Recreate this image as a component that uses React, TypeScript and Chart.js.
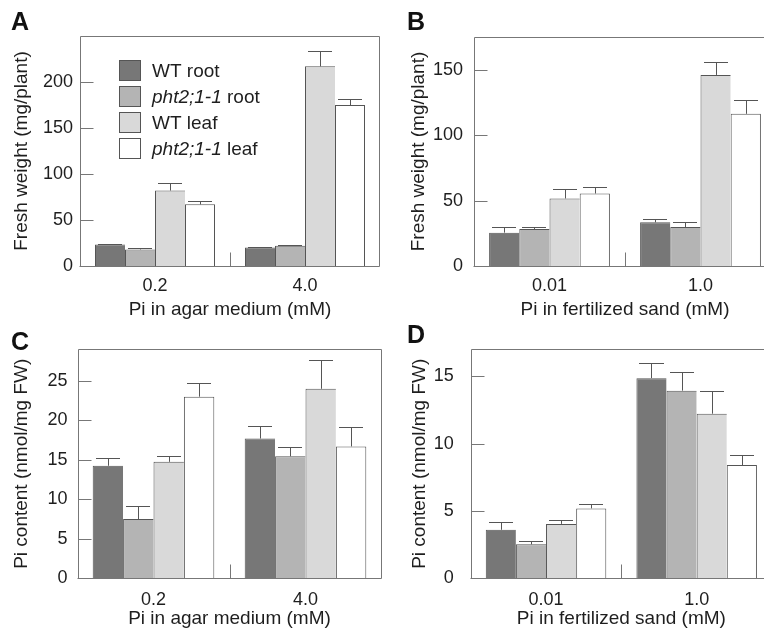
import React, { useEffect, useRef } from 'react';
import { Chart, registerables } from 'chart.js';
Chart.register(...registerables);

// ---------- data ----------
const seriesNames = ['WT root', 'pht2;1-1 root', 'WT leaf', 'pht2;1-1 leaf'];
const seriesColors = ['#777777', '#b4b4b4', '#d9d9d9', '#ffffff'];

// Panel A: fresh weight, agar medium
const catsA = ['0.2', '4.0'];
const aWtRoot = [23.5, 20];
const aPhtRoot = [18, 22];
const aWtLeaf = [82, 217];
const aPhtLeaf = [67, 175];
const aWtRootErr = [0.5, 1];
const aPhtRootErr = [2, 1];
const aWtLeafErr = [8, 17];
const aPhtLeafErr = [4, 7];

// Panel B: fresh weight, fertilized sand
const catsB = ['0.01', '1.0'];
const bWtRoot = [25.5, 33.4];
const bPhtRoot = [28.3, 29.8];
const bWtLeaf = [51.6, 146];
const bPhtLeaf = [55.4, 116.3];
const bWtRootErr = [4.3, 2.3];
const bPhtRootErr = [1.5, 4.2];
const bWtLeafErr = [7, 9.7];
const bPhtLeafErr = [5, 10.7];

// Panel C: Pi content, agar medium
const catsC = ['0.2', '4.0'];
const cWtRoot = [14.25, 17.7];
const cPhtRoot = [7.5, 15.45];
const cWtLeaf = [14.75, 24.0];
const cPhtLeaf = [23.0, 16.7];
const cWtRootErr = [0.95, 1.6];
const cPhtRootErr = [1.65, 1.15];
const cWtLeafErr = [0.7, 3.7];
const cPhtLeafErr = [1.67, 2.5];

// Panel D: Pi content, fertilized sand
const catsD = ['0.01', '1.0'];
const dWtRoot = [3.6, 14.86];
const dPhtRoot = [2.52, 13.93];
const dWtLeaf = [4.04, 12.22];
const dPhtLeaf = [5.19, 8.41];
const dWtRootErr = [0.55, 1.14];
const dPhtRootErr = [0.24, 1.4];
const dWtLeafErr = [0.3, 1.65];
const dPhtLeafErr = [0.29, 0.75];

// axis ranges / tick labels
const yMaxA = 250, yStepA = 50, yLabelMaxA = 200;
const yMaxB = 175, yStepB = 50, yLabelMaxB = 150;
const yMaxC = 29, yStepC = 5, yLabelMaxC = 25;
const yMaxD = 17, yStepD = 5, yLabelMaxD = 15;

const yTitleWeight = 'Fresh weight (mg/plant)';
const yTitlePi = 'Pi content (nmol/mg FW)';
const xTitleAgar = 'Pi in agar medium (mM)';
const xTitleSand = 'Pi in fertilized sand (mM)';

// ---------- styling ----------
const FONT = '"Liberation Sans", Arial, Helvetica, sans-serif';
const TEXT = '#1e1e1e';
const LINE = '#777777';
const BAR_EDGE = '#555555';
const TICK_SIZE = 18;
const TITLE_SIZE = 19;

type Area = { left: number; top: number; right: number; bottom: number };
type Panel = {
  letter: string;
  letterPos: { left: number; top: number };
  labels: string[];
  series: number[][];
  errors: number[][];
  yMax: number;
  yStep: number;
  yLabelMax: number;
  yTitle: string;
  xTitle: string;
  box: { left: number; top: number; width: number; height: number };
  area: Area;
  yTitlePad: number;
  yTickPad: number;
  xTickPad: number;
  xTitlePad: number;
  legend: boolean;
};

const panels: Panel[] = [
  {
    letter: 'A', letterPos: { left: 11, top: 9 },
    labels: catsA,
    series: [aWtRoot, aPhtRoot, aWtLeaf, aPhtLeaf],
    errors: [aWtRootErr, aPhtRootErr, aWtLeafErr, aPhtLeafErr],
    yMax: yMaxA, yStep: yStepA, yLabelMax: yLabelMaxA,
    yTitle: yTitleWeight, xTitle: xTitleAgar,
    box: { left: 0, top: 0, width: 382, height: 323 },
    area: { left: 80, top: 36, right: 380, bottom: 266 },
    yTitlePad: 10.6, yTickPad: 7, xTickPad: 9.5, xTitlePad: 1.6, legend: true,
  },
  {
    letter: 'B', letterPos: { left: 407, top: 9 },
    labels: catsB,
    series: [bWtRoot, bPhtRoot, bWtLeaf, bPhtLeaf],
    errors: [bWtRootErr, bPhtRootErr, bWtLeafErr, bPhtLeafErr],
    yMax: yMaxB, yStep: yStepB, yLabelMax: yLabelMaxB,
    yTitle: yTitleWeight, xTitle: xTitleSand,
    box: { left: 382, top: 0, width: 400, height: 323 },
    area: { left: 92, top: 37, right: 394, bottom: 266 },
    yTitlePad: 25.6, yTickPad: 11, xTickPad: 9, xTitlePad: 1.6, legend: false,
  },
  {
    letter: 'C', letterPos: { left: 11, top: 329 },
    labels: catsC,
    series: [cWtRoot, cPhtRoot, cWtLeaf, cPhtLeaf],
    errors: [cWtRootErr, cPhtRootErr, cWtLeafErr, cPhtLeafErr],
    yMax: yMaxC, yStep: yStepC, yLabelMax: yLabelMaxC,
    yTitle: yTitlePi, xTitle: xTitleAgar,
    box: { left: 0, top: 316, width: 382, height: 317 },
    area: { left: 77.5, top: 33.3, right: 381.5, bottom: 262.3 },
    yTitlePad: 10.1, yTickPad: 10, xTickPad: 11, xTitlePad: 3, legend: false,
  },
  {
    letter: 'D', letterPos: { left: 407, top: 322 },
    labels: catsD,
    series: [dWtRoot, dPhtRoot, dWtLeaf, dPhtLeaf],
    errors: [dWtRootErr, dPhtRootErr, dWtLeafErr, dPhtLeafErr],
    yMax: yMaxD, yStep: yStepD, yLabelMax: yLabelMaxD,
    yTitle: yTitlePi, xTitle: xTitleSand,
    box: { left: 382, top: 316, width: 400, height: 317 },
    area: { left: 88.7, top: 33.3, right: 390, bottom: 262.3 },
    yTitlePad: 26.1, yTickPad: 17, xTickPad: 11, xTitlePad: 3, legend: false,
  },
];

const isLabelTick = (v: number, step: number, maxLabel: number) =>
  v <= maxLabel + 1e-9 && Math.abs(v / step - Math.round(v / step)) < 1e-9;

const framePlugin = {
  id: 'frameAndErrors',
  afterDatasetsDraw(chart: any, _args: any, opts: any) {
    const { ctx, chartArea: a } = chart;
    const x = chart.scales.x;
    const y = chart.scales.y;
    ctx.save();
    // error bars (upper half only)
    ctx.strokeStyle = BAR_EDGE;
    ctx.lineWidth = 1;
    chart.data.datasets.forEach((ds: any, i: number) => {
      const meta = chart.getDatasetMeta(i);
      meta.data.forEach((bar: any, j: number) => {
        const v = ds.data[j];
        const e = ds.errors ? ds.errors[j] : 0;
        if (!e) return;
        const p = bar.getProps(['x', 'width'], true);
        const cx = Math.round(p.x) + 0.5;
        const yv = y.getPixelForValue(v);
        const ye = Math.round(y.getPixelForValue(v + e)) + 0.5;
        const half = p.width * 0.4;
        ctx.beginPath();
        ctx.moveTo(cx, yv);
        ctx.lineTo(cx, ye);
        ctx.moveTo(Math.round(p.x - half), ye);
        ctx.lineTo(Math.round(p.x + half), ye);
        ctx.stroke();
      });
    });
    // frame
    ctx.strokeStyle = LINE;
    const L = Math.round(a.left) + 0.5;
    const R = Math.round(a.right) - 0.5;
    const T = Math.round(a.top) + 0.5;
    const B = Math.round(a.bottom) + 0.5;
    ctx.beginPath();
    ctx.moveTo(L, B);
    ctx.lineTo(L, T);
    ctx.lineTo(R, T);
    ctx.lineTo(R, B);
    ctx.moveTo(L - 1, B);
    ctx.lineTo(R, B);
    // inward y ticks
    y.ticks.forEach((t: any) => {
      if (!isLabelTick(t.value, opts.step, opts.maxLabel)) return;
      if (t.value === 0) return;
      const py = Math.round(y.getPixelForValue(t.value)) + 0.5;
      ctx.moveTo(L, py);
      ctx.lineTo(L + 13, py);
    });
    // separators between categories
    for (let i = 0; i < chart.data.labels.length - 1; i++) {
      const px = Math.round((x.getPixelForValue(i) + x.getPixelForValue(i + 1)) / 2) + 0.5;
      ctx.moveTo(px, B);
      ctx.lineTo(px, B - 14);
    }
    ctx.stroke();
    ctx.restore();
  },
};

const legendPlugin = {
  id: 'mixedLegend',
  afterDraw(chart: any, _args: any, opts: any) {
    if (!opts || !opts.show) return;
    const { ctx, chartArea: a } = chart;
    ctx.save();
    const bx = a.left + 39;
    const by = a.top + 23.5;
    chart.data.datasets.forEach((ds: any, i: number) => {
      const top = Math.round(by + i * 26) + 0.5;
      ctx.fillStyle = ds.backgroundColor;
      ctx.strokeStyle = BAR_EDGE;
      ctx.lineWidth = 1;
      ctx.fillRect(Math.round(bx) + 0.5, top, 21, 20);
      ctx.strokeRect(Math.round(bx) + 0.5, top, 21, 20);
      const name: string = ds.label;
      let tx = bx + 33;
      const ty = top + 11;
      ctx.fillStyle = TEXT;
      ctx.textBaseline = 'middle';
      ctx.textAlign = 'left';
      if (name.startsWith('pht')) {
        const sp = name.indexOf(' ');
        const it = name.slice(0, sp);
        const rest = name.slice(sp);
        ctx.font = `italic ${TITLE_SIZE}px ${FONT}`;
        ctx.fillText(it, tx, ty);
        tx += ctx.measureText(it).width;
        ctx.font = `${TITLE_SIZE}px ${FONT}`;
        ctx.fillText(rest, tx, ty);
      } else {
        ctx.font = `${TITLE_SIZE}px ${FONT}`;
        ctx.fillText(name, tx, ty);
      }
    });
    ctx.restore();
  },
};

function PanelChart({ p }: { p: Panel }) {
  const ref = useRef<HTMLCanvasElement>(null);
  useEffect(() => {
    const canvas = ref.current!;
    const { area, box } = p;
    const chart = new Chart(canvas, {
      type: 'bar',
      data: {
        labels: p.labels,
        datasets: p.series.map((d, i) => ({
          label: seriesNames[i],
          data: d,
          errors: p.errors[i],
          backgroundColor: seriesColors[i],
          borderColor: BAR_EDGE,
          borderWidth: { top: 1, left: 1, bottom: 0, right: i === 3 ? 1 : 0 },
          borderSkipped: false,
          categoryPercentage: 0.8,
          barPercentage: 1,
        })) as any,
      },
      options: {
        animation: false,
        responsive: false,
        devicePixelRatio: 1,
        layout: { padding: { left: 0, top: area.top, right: box.width - area.right, bottom: 0 } },
        plugins: {
          legend: { display: false },
          tooltip: { enabled: false },
          title: { display: false },
          frameAndErrors: { step: p.yStep, maxLabel: p.yLabelMax },
          mixedLegend: { show: p.legend },
        } as any,
        scales: {
          x: {
            type: 'category',
            offset: true,
            grid: { display: false, drawTicks: false },
            border: { display: false },
            ticks: { padding: p.xTickPad, color: TEXT, font: { family: FONT, size: TICK_SIZE } },
            title: {
              display: true, text: p.xTitle, color: TEXT,
              font: { family: FONT, size: TITLE_SIZE }, padding: { top: 0, bottom: p.xTitlePad },
            },
            afterFit: (s: any) => { s.height = box.height - area.bottom; },
          },
          y: {
            type: 'linear',
            min: 0,
            max: p.yMax,
            grid: { display: false, drawTicks: false },
            border: { display: false },
            ticks: {
              stepSize: p.yStep,
              padding: p.yTickPad,
              color: TEXT,
              font: { family: FONT, size: TICK_SIZE },
              callback: (v: any) => (isLabelTick(Number(v), p.yStep, p.yLabelMax) ? String(v) : null),
            },
            title: {
              display: true, text: p.yTitle, color: TEXT,
              font: { family: FONT, size: TITLE_SIZE }, padding: { top: p.yTitlePad, bottom: 0 },
            },
            afterFit: (s: any) => { s.width = area.left; },
          },
        } as any,
      },
      plugins: [framePlugin, legendPlugin],
    });
    return () => chart.destroy();
  }, [p]);
  return (
    <canvas
      ref={ref}
      width={p.box.width}
      height={p.box.height}
      style={{ position: 'absolute', left: p.box.left, top: p.box.top, width: p.box.width, height: p.box.height }}
    />
  );
}

export default function App() {
  return (
    <div style={{ position: 'absolute', left: 0, top: 0, width: 764, height: 633, overflow: 'hidden', background: '#fff' }}>
      {panels.map((p) => (
        <PanelChart key={p.letter} p={p} />
      ))}
      {panels.map((p) => (
        <div
          key={'l' + p.letter}
          style={{
            position: 'absolute', left: p.letterPos.left, top: p.letterPos.top,
            font: `bold 25px ${FONT}`, lineHeight: '25px', color: '#111',
          }}
        >
          {p.letter}
        </div>
      ))}
    </div>
  );
}
